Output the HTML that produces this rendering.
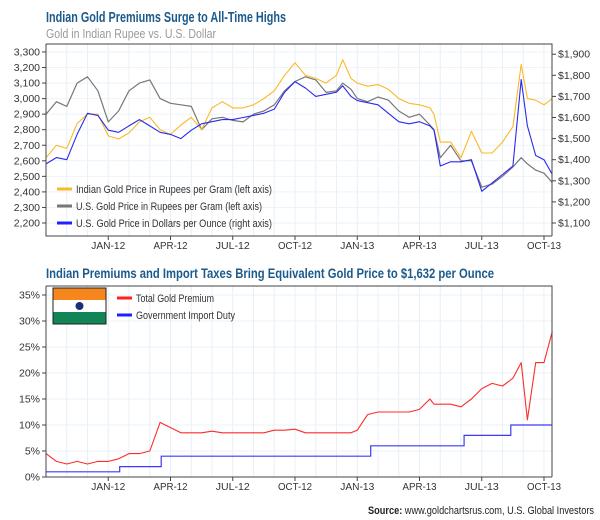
<!DOCTYPE html>
<html><head><meta charset="utf-8"><style>
html,body{margin:0;padding:0;background:#fff;}
svg{display:block;font-family:"Liberation Sans",sans-serif;}
</style></head><body>
<svg id="c" width="600" height="520" viewBox="0 0 600 520">
<text x="46" y="22" font-size="14.5" font-weight="bold" fill="#1b5a8c" textLength="240" lengthAdjust="spacingAndGlyphs">Indian Gold Premiums Surge to All-Time Highs</text>
<text x="46" y="38" font-size="13" fill="#9a9a9a" textLength="170" lengthAdjust="spacingAndGlyphs">Gold in Indian Rupee vs. U.S. Dollar</text>
<text x="46" y="278" font-size="13.5" font-weight="bold" fill="#1b5a8c" textLength="448" lengthAdjust="spacingAndGlyphs">Indian Premiums and Import Taxes Bring Equivalent Gold Price to $1,632 per Ounce</text>
<g id="top"></g>
<g id="bot"></g>
<text x="594" y="514" font-size="11" text-anchor="end" fill="#222" textLength="226" lengthAdjust="spacingAndGlyphs"><tspan font-weight="bold">Source:</tspan> www.goldchartsrus.com, U.S. Global Investors</text>
</svg>
<script>
// months since Oct 1 2011
const months = [0,0.5,1,1.5,2,2.5,3,3.5,4,4.5,5,5.5,6,6.5,7,7.5,8,8.5,9,9.5,10,10.5,11,11.5,12,12.5,13,13.5,14,14.3,14.7,15,15.5,16,16.5,17,17.5,18,18.5,18.7,19,19.5,20,20.5,21,21.5,22,22.5,22.9,23.2,23.6,24,24.4];
const inrGold = [2620,2700,2680,2840,2900,2900,2760,2740,2780,2850,2880,2800,2770,2830,2880,2800,2940,2980,2940,2940,2960,3000,3050,3150,3230,3150,3130,3100,3150,3250,3130,3100,3080,3090,3060,3000,2970,2960,2940,2900,2720,2720,2620,2790,2650,2650,2720,2820,3220,3000,2990,2960,3000];
const usInr = [2900,2980,2950,3100,3140,3050,2850,2920,3050,3100,3120,3000,2970,2960,2950,2800,2870,2880,2860,2850,2900,2920,2960,3050,3110,3140,3120,3040,3050,3100,3060,3000,2980,3010,2990,2920,2880,2900,2830,2800,2620,2700,2600,2600,2430,2450,2500,2560,2620,2580,2540,2520,2460];
const usdGold = [1380,1410,1400,1520,1620,1610,1540,1530,1560,1590,1560,1530,1520,1500,1540,1570,1580,1590,1590,1600,1610,1620,1640,1720,1770,1740,1700,1710,1720,1750,1700,1680,1670,1660,1620,1580,1570,1580,1560,1540,1370,1390,1390,1400,1250,1290,1330,1370,1780,1560,1420,1400,1330];
const premium = [4.5,3,2.5,3,2.5,3,3,3.5,4.5,4.5,5,10.5,9.5,8.5,8.5,8.5,8.8,8.5,8.5,8.5,8.5,8.5,9,9,9.2,8.5,8.5,8.5,8.5,8.5,8.5,9,12,12.5,12.5,12.5,12.5,13,15,14,14,14,13.5,15,17,18,17.5,19,22,11,22,22,28];
const dutyMonths = [0,3.55,5.55,15.65,20.15,22.4,24.4];
const dutyRates = [1,2,4,6,8,10,10];
const xLabels = ["JAN-12","APR-12","JUL-12","OCT-12","JAN-13","APR-13","JUL-13","OCT-13"];
const xLabelMonths = [3,6,9,12,15,18,21,24];
const leftTicks = [2200,2300,2400,2500,2600,2700,2800,2900,3000,3100,3200,3300];
const rightTicks = [1100,1200,1300,1400,1500,1600,1700,1800,1900];
const pctTicks = [0,5,10,15,20,25,30,35];

const NS="http://www.w3.org/2000/svg";
function mk(p,t,a){const e=document.createElementNS(NS,t);for(const k in a)e.setAttribute(k,a[k]);p.appendChild(e);return e;}
const X0=46,X1=552;
const xs=m=>X0+m*20.75;
const yL=v=>223-(v-2200)*0.1555;
const yR=v=>223-(v-1100)*0.211;
const yP=v=>477-v*5.2;
function fmt(n){return n.toLocaleString('en-US');}

function frame(g,top,bot){
  for(let m=1;m<25;m++){const l=mk(g,'line',{x1:xs(m),x2:xs(m),y1:top,y2:bot,stroke:'#e6f0f8','stroke-width':1});
    
    }
}
function axesBox(g,top,bot){
  const r=mk(g,'path',{d:`M${X0},${top}H${X1}V${bot}M${X0},${top}V${bot}H${X1}`,fill:'none',stroke:'#444','stroke-width':1});
  
  
  xLabelMonths.forEach((m,i)=>{
    mk(g,'line',{x1:xs(m),x2:xs(m),y1:bot,y2:bot+4,stroke:'#444'});
    const t=mk(g,'text',{x:xs(m),y:bot+13,'font-size':10.5,'text-anchor':'middle',fill:'#333',textLength:34,lengthAdjust:'spacingAndGlyphs'});
    t.textContent=xLabels[i];
    
    
  });
}
function line(g,xv,yv,fx,fy,color,name,w){
  const d=xv.map((m,i)=>(i?'L':'M')+fx(m).toFixed(1)+','+fy(yv[i]).toFixed(1)).join('');
  const p=mk(g,'path',{d:d,fill:'none',stroke:color,'stroke-width':w||1.1,'stroke-linejoin':'round'});
  
  
}
// TOP
const T=document.getElementById('top');
frame(T,44,236);
leftTicks.forEach(v=>{mk(T,'line',{x1:X0,x2:X1,y1:yL(v),y2:yL(v),stroke:'#eef3f8'});});
leftTicks.forEach(v=>{
  mk(T,'line',{x1:X0-4,x2:X0,y1:yL(v),y2:yL(v),stroke:'#444'});
  const t=mk(T,'text',{x:X0-6,y:yL(v)+3.5,'font-size':10.5,'text-anchor':'end',fill:'#333'});
  t.textContent=fmt(v);
  
  
});
rightTicks.forEach(v=>{
  mk(T,'line',{x1:X1,x2:X1+4,y1:yR(v),y2:yR(v),stroke:'#444'});
  const t=mk(T,'text',{x:X1+6,y:yR(v)+3.5,'font-size':10.5,fill:'#333'});
  t.textContent='$'+fmt(v);
  
  
});
line(T,months,usInr,xs,yL,'#777','us-gold-rupee-line',1.2);
line(T,months,inrGold,xs,yL,'#fbb829','indian-gold-rupee-line',1.1);
line(T,months,usdGold,xs,yR,'#2a2af0','us-gold-dollar-line',1.1);
axesBox(T,44,236);
[['#fbb829','Indian Gold Price in Rupees per Gram (left axis)',196],['#777','U.S. Gold Price in Rupees per Gram (left axis)',186],['#2020ff','U.S. Gold Price in Dollars per Ounce (right axis)',196]].forEach((L,i)=>{
  const y=189+i*17;
  const g=mk(T,'g',{});
  
  
  mk(g,'line',{x1:57,x2:72,y1:y,y2:y,stroke:L[0],'stroke-width':3});
  const t=mk(g,'text',{x:76,y:y+4,'font-size':11,fill:'#333',textLength:L[2],lengthAdjust:'spacingAndGlyphs'});t.textContent=L[1];
});
// BOTTOM
const B=document.getElementById('bot');
frame(B,286,477);
pctTicks.forEach(v=>{mk(B,'line',{x1:X0,x2:X1,y1:yP(v),y2:yP(v),stroke:'#eef3f8'});
  mk(B,'line',{x1:X0-4,x2:X0,y1:yP(v),y2:yP(v),stroke:'#444'});
  const t=mk(B,'text',{x:X0-6,y:yP(v)+3.5,'font-size':10.5,'text-anchor':'end',fill:'#333'});
  t.textContent=v+'%';
  
  
});
line(B,months,premium,xs,yP,'#ff2b2b','total-premium-line',1.1);
{const d=dutyMonths.map((m,i)=>(i?`H${xs(m).toFixed(1)}V${yP(dutyRates[i]).toFixed(1)}`:`M${xs(m).toFixed(1)},${yP(dutyRates[0]).toFixed(1)}`)).join('');
 const p=mk(B,'path',{d:d,fill:'none',stroke:'#3b3bf5','stroke-width':1.2});
 
 }
axesBox(B,286,477);
const flag=mk(B,'g',{});


mk(flag,'rect',{x:53,y:288,width:53,height:12,fill:'#f7861f'});
mk(flag,'rect',{x:53,y:300,width:53,height:12,fill:'#fff'});
mk(flag,'rect',{x:53,y:312,width:53,height:12,fill:'#138456'});
mk(flag,'circle',{cx:79.5,cy:306,r:4,fill:'#1a2f7a'});
mk(flag,'rect',{x:53,y:288,width:53,height:36,fill:'none',stroke:'#222','stroke-width':1});
[['#ff2020','Total Gold Premium',78],['#2020ff','Government Import Duty',99]].forEach((L,i)=>{
  const y=298+i*17;
  const g=mk(B,'g',{});
  
  
  mk(g,'line',{x1:117,x2:132,y1:y,y2:y,stroke:L[0],'stroke-width':3});
  const t=mk(g,'text',{x:136,y:y+4,'font-size':11,fill:'#333',textLength:L[2],lengthAdjust:'spacingAndGlyphs'});t.textContent=L[1];
});
</script>
</body></html>
